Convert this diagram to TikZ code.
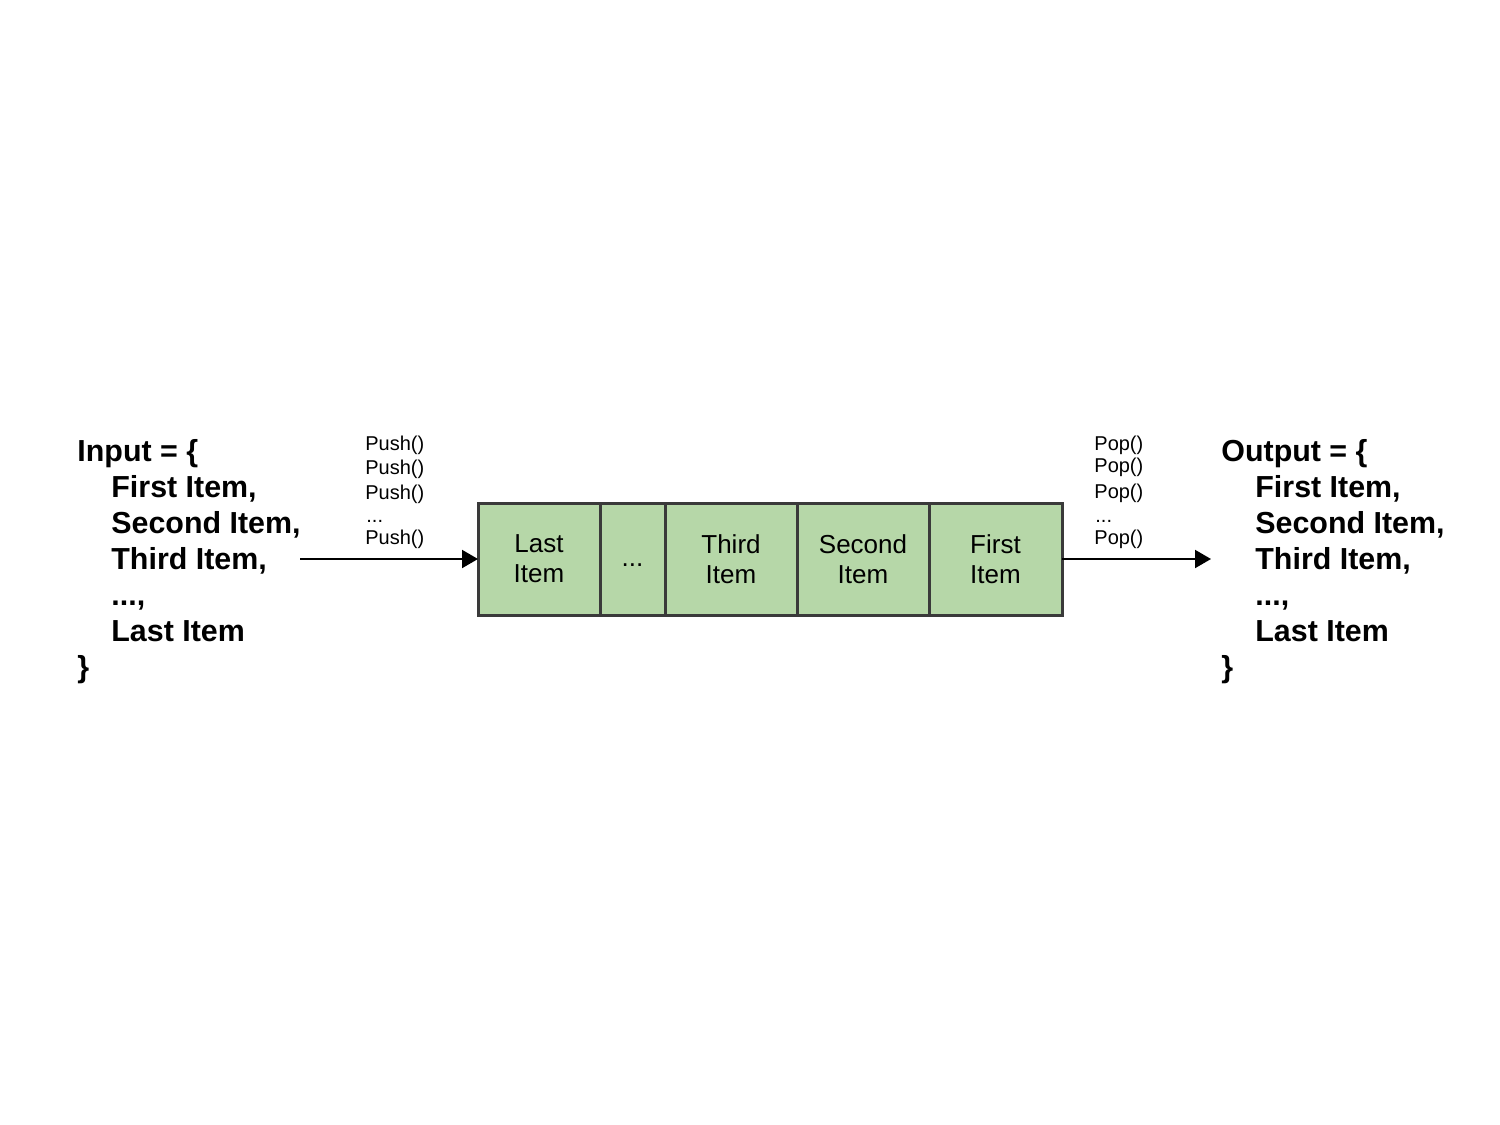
\documentclass[tikz,border=0pt]{standalone}
\usepackage{fontspec}
\setmainfont{Liberation Sans}
\usetikzlibrary{arrows.meta}
\definecolor{cellfill}{HTML}{B6D7A8}
\definecolor{cellline}{HTML}{3A3A3A}
\tikzset{
  cell/.style={draw=cellline, line width=1.5pt, fill=cellfill, minimum height=56pt, inner sep=0pt, outer sep=0pt, align=center, font=\fontsize{13pt}{15pt}\selectfont},
  bigtxt/.style={anchor=base west, inner sep=0pt, font=\fontsize{15.2pt}{18pt}\selectfont\bfseries},
  smalltxt/.style={anchor=base west, inner sep=0pt, font=\fontsize{10pt}{12pt}\selectfont},
  conn/.style={line width=1pt, -{Triangle[length=8pt,width=9pt]}}
}
\begin{document}
\begin{tikzpicture}[x=0.5pt,y=-0.5pt]
\useasboundingbox (0,0) rectangle (1500,1125);
% cells
\node[cell, minimum width=61pt] (c1) at (539,559) {Last\\Item};
\node[cell, minimum width=32.5pt, text height=7pt, text depth=0pt] (c2) at (632.5,559) {...};
\node[cell, minimum width=66pt] (c3) at (731,559) {Third\\Item};
\node[cell, minimum width=66pt] (c4) at (863,559) {Second\\Item};
\node[cell, minimum width=66.5pt] (c5) at (995.5,559) {First\\Item};
% input text
\node[bigtxt] (in0) at (77,461) {Input = \{};
\node[bigtxt] (in1) at (111,497) {First Item,};
\node[bigtxt] (in2) at (111,533) {Second Item,};
\node[bigtxt] (in3) at (111,569) {Third Item,};
\node[bigtxt] (in4) at (111,605) {...,};
\node[bigtxt] (in5) at (111,641) {Last Item};
\node[bigtxt] (in6) at (77,677) {\}};
% output text
\node[bigtxt] (out0) at (1221,461) {Output = \{};
\node[bigtxt] (out1) at (1255,497) {First Item,};
\node[bigtxt] (out2) at (1255,533) {Second Item,};
\node[bigtxt] (out3) at (1255,569) {Third Item,};
\node[bigtxt] (out4) at (1255,605) {...,};
\node[bigtxt] (out5) at (1255,641) {Last Item};
\node[bigtxt] (out6) at (1221,677) {\}};
% push labels
\node[smalltxt] (p1) at (365,450) {Push()};
\node[smalltxt] (p2) at (365,474) {Push()};
\node[smalltxt] (p3) at (365,499) {Push()};
\node[smalltxt] (p4) at (366,522) {...};
\node[smalltxt] (p5) at (365,544) {Push()};
% pop labels
\node[smalltxt] (q1) at (1094,450) {Pop()};
\node[smalltxt] (q2) at (1094,472) {Pop()};
\node[smalltxt] (q3) at (1094,498) {Pop()};
\node[smalltxt] (q4) at (1095,522) {...};
\node[smalltxt] (q5) at (1094,544) {Pop()};
% connectors
\coordinate (inEnd) at (300,559);
\coordinate (outEnd) at (1211,559);
\draw[conn] (inEnd) -- (c1.west);
\draw[conn] (c5.east) -- (outEnd);
\end{tikzpicture}
\end{document}
